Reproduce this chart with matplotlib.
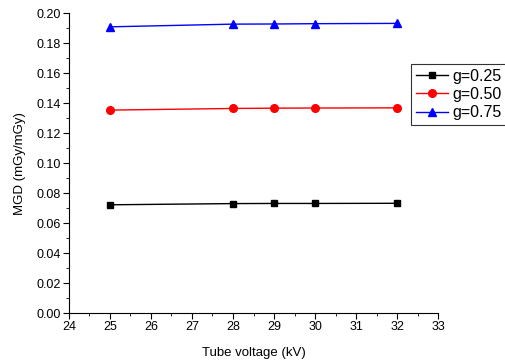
import numpy as np
import matplotlib
matplotlib.use('Agg')
import matplotlib.pyplot as plt
from matplotlib.ticker import MultipleLocator

plt.rcParams['font.family'] = ['Liberation Sans', 'DejaVu Sans']

voltage = [25, 28, 29, 30, 32]
mgd_025 = [0.0722, 0.0730, 0.0731, 0.0731, 0.0732]
mgd_050 = [0.1353, 0.1364, 0.1366, 0.1367, 0.1368]
mgd_075 = [0.1908, 0.1926, 0.1927, 0.1929, 0.1931]
labels = ['g=0.25', 'g=0.50', 'g=0.75']

fig = plt.figure(figsize=(5.06, 3.62), dpi=100)
ax = fig.add_axes([0.136, 0.135, 0.730, 0.829])

ax.plot(voltage, mgd_025, color='black', marker='s', ms=5, lw=1, label=labels[0])
ax.plot(voltage, mgd_050, color='red', marker='o', ms=5.5, lw=1, label=labels[1])
ax.plot(voltage, mgd_075, color='blue', marker='^', ms=6, lw=1, label=labels[2])

ax.set_xlim(24, 33)
ax.set_ylim(0, 0.20)
ax.xaxis.set_major_locator(MultipleLocator(1))
ax.xaxis.set_minor_locator(MultipleLocator(0.5))
ax.yaxis.set_major_locator(MultipleLocator(0.02))
ax.yaxis.set_minor_locator(MultipleLocator(0.01))
ax.yaxis.set_major_formatter(matplotlib.ticker.FormatStrFormatter('%.2f'))
ax.spines['top'].set_visible(False)
ax.spines['right'].set_visible(False)
ax.tick_params(which='major', length=4, labelsize=9, pad=2)
ax.tick_params(which='minor', length=2)

ax.set_xlabel('Tube voltage (kV)', fontsize=9.5, labelpad=10)
ax.set_ylabel('MGD (mGy/mGy)', fontsize=9.5, labelpad=7)

leg = ax.legend(loc='upper left', bbox_to_anchor=(0.926, 0.83), fontsize=11.5,
                frameon=True, fancybox=False, edgecolor='black',
                handlelength=2.0, handletextpad=0.3, borderpad=0.3,
                labelspacing=0.2, borderaxespad=0)
leg.get_frame().set_linewidth(0.8)

fig.savefig('out.png', dpi=100)
